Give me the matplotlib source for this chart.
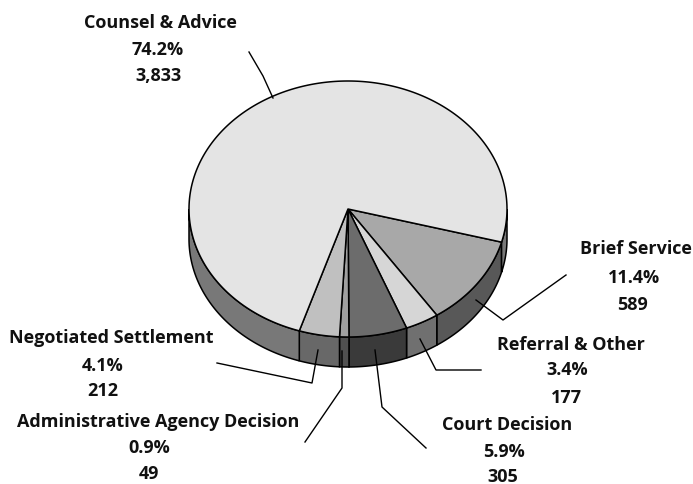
import numpy as np
import matplotlib
matplotlib.use("Agg")
import matplotlib.pyplot as plt

# Data, clockwise from the right side of the pie
names = ["Brief Service", "Referral & Other", "Court Decision",
         "Administrative Agency Decision", "Negotiated Settlement", "Counsel & Advice"]
counts = [589, 177, 305, 49, 212, 3833]
percents = ["11.4%", "3.4%", "5.9%", "0.9%", "4.1%", "74.2%"]
top_colors = ["#a8a8a8", "#d6d6d6", "#6c6c6c", "#a0a0a0", "#c0c0c0", "#e4e4e4"]
side_colors = ["#585858", "#707070", "#3a3a3a", "#505050", "#686868", "#787878"]

# Label centres in pixels, one list per text line
name_pos = [(636, 249), (571, 345), (507, 425), (158, 422), (111, 338), (160, 23)]
pct_pos = [(634, 278), (567, 370), (504, 452), (149, 448), (103, 366), (158, 50)]
count_pos = [(633, 305), (566, 398), (503, 477), (149, 474), (103, 391), (158, 76)]

# Leader lines in pixels
leaders = [
    [(476, 301), (503, 321), (566, 276)],
    [(420, 340), (436, 371), (481, 371)],
    [(375, 351), (382, 408), (426, 449)],
    [(342, 352), (342, 389), (305, 443)],
    [(318, 351), (312, 384), (217, 364)],
    [(273, 99), (263, 77), (249, 53)],
]

CX, CY = 348, 210
RX, RY = 159, 128
DEPTH = 30
START = 15


def arc(t0, t1, drop=0):
    t = np.radians(np.linspace(t0, t1, max(2, int(abs(t1 - t0)) + 2)))
    return CX + RX * np.cos(t), CY + drop + RY * np.sin(t)


def label(pos, text):
    ax.text(pos[0], pos[1], text, ha="center", va="center", family="Open Sans",
            fontweight="bold", fontsize=13, color="#111111")


fig = plt.figure(figsize=(6.93, 4.85), dpi=100)
ax = fig.add_axes([0, 0, 1, 1])
ax.set_xlim(0, 693)
ax.set_ylim(485, 0)
ax.axis("off")

total = sum(counts)
angles = START + np.concatenate([[0], np.cumsum(counts)]) / total * 360

# Side walls, only the front half of the ellipse shows
for i in range(len(counts)):
    for lo, hi in [(0, 180), (360, 540)]:
        t0 = max(angles[i], lo)
        t1 = min(angles[i + 1], hi)
        if t1 <= t0:
            continue
        x1, y1 = arc(t0, t1)
        x2, y2 = arc(t1, t0, DEPTH)
        ax.fill(np.r_[x1, x2], np.r_[y1, y2], facecolor=side_colors[i],
                edgecolor="black", linewidth=1.1, zorder=2)

# Top face
for i in range(len(counts)):
    x, y = arc(angles[i], angles[i + 1])
    ax.fill(np.r_[CX, x], np.r_[CY, y], facecolor=top_colors[i],
            edgecolor="black", linewidth=1.1, joinstyle="round", zorder=3)

for line in leaders:
    ax.plot(*zip(*line), color="black", linewidth=1.0, zorder=4)

for i in range(len(names)):
    label(name_pos[i], names[i])
    label(pct_pos[i], percents[i])
    label(count_pos[i], f"{counts[i]:,}")

fig.savefig("out.png", dpi=100)
